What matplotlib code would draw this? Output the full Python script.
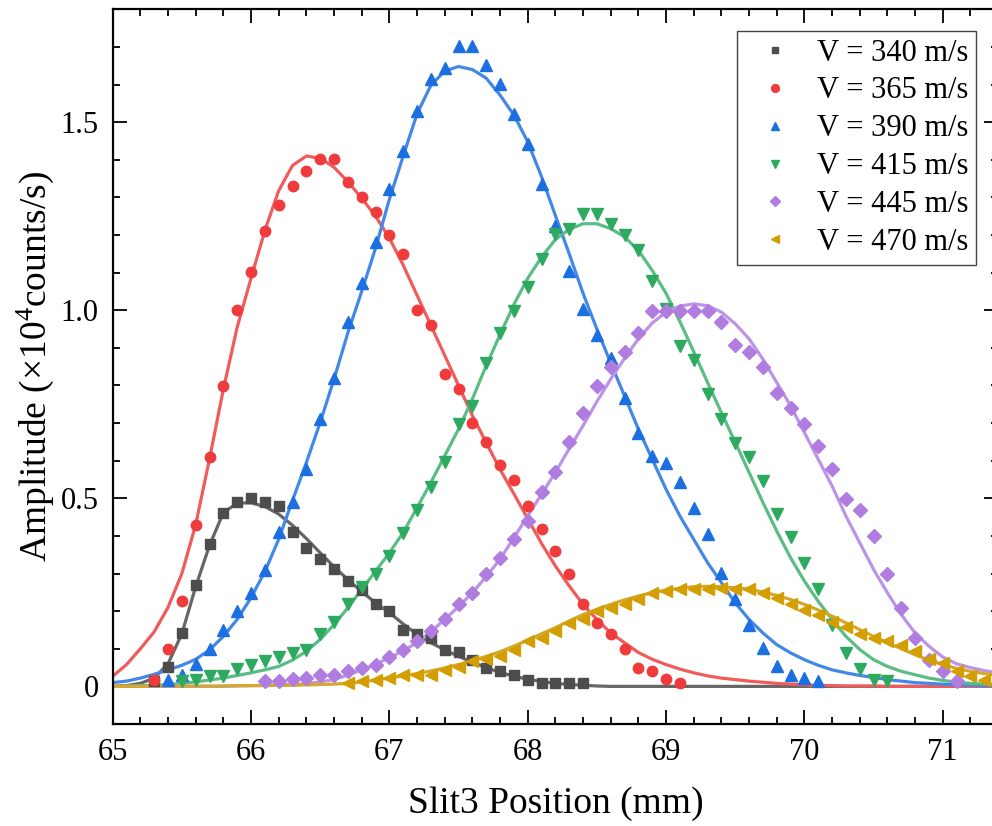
import numpy as np
import matplotlib
matplotlib.use("Agg")
import matplotlib.pyplot as plt
from matplotlib.ticker import MultipleLocator, FuncFormatter

plt.rcParams['font.family'] = ['Liberation Serif', 'DejaVu Serif']
plt.rcParams['mathtext.fontset'] = 'custom'
plt.rcParams['mathtext.rm'] = 'Liberation Serif'
plt.rcParams['mathtext.it'] = 'Liberation Serif:italic'

step = 0.1  # slit scan step (mm)

# measured amplitudes (x1e4 counts/s), first position of each scan
labels = ["V = 340 m/s", "V = 365 m/s", "V = 390 m/s",
          "V = 415 m/s", "V = 445 m/s", "V = 470 m/s"]
starts = [65.3, 65.3, 65.4, 65.5, 66.1, 66.7]

v340 = [0.015, 0.051, 0.142, 0.269, 0.379, 0.461, 0.490, 0.500, 0.490, 0.480,
        0.411, 0.369, 0.339, 0.311, 0.280, 0.255, 0.220, 0.200, 0.151, 0.140,
        0.129, 0.098, 0.091, 0.069, 0.049, 0.040, 0.029, 0.018, 0.009, 0.009,
        0.009, 0.009]
v365 = [0.018, 0.100, 0.228, 0.429, 0.609, 0.799, 1.001, 1.101, 1.211, 1.281,
        1.331, 1.371, 1.401, 1.401, 1.341, 1.300, 1.261, 1.201, 1.150, 1.001,
        0.961, 0.831, 0.791, 0.700, 0.649, 0.589, 0.550, 0.480, 0.419, 0.360,
        0.300, 0.220, 0.169, 0.140, 0.100, 0.049, 0.040, 0.020, 0.009]
v390 = [0.018, 0.029, 0.060, 0.100, 0.151, 0.200, 0.249, 0.309, 0.411, 0.490,
        0.579, 0.711, 0.820, 0.970, 1.072, 1.181, 1.322, 1.423, 1.530, 1.614,
        1.643, 1.703, 1.703, 1.652, 1.601, 1.523, 1.443, 1.335, 1.223, 1.103,
        1.004, 0.934, 0.872, 0.766, 0.673, 0.613, 0.593, 0.544, 0.473, 0.404,
        0.302, 0.231, 0.162, 0.102, 0.053, 0.031, 0.022, 0.013]
v415 = [0.013, 0.018, 0.027, 0.027, 0.046, 0.056, 0.068, 0.077, 0.089, 0.098,
        0.140, 0.171, 0.220, 0.265, 0.300, 0.346, 0.409, 0.468, 0.529, 0.597,
        0.697, 0.746, 0.860, 0.940, 0.999, 1.061, 1.137, 1.204, 1.217, 1.257,
        1.257, 1.228, 1.199, 1.159, 1.079, 1.004, 0.906, 0.868, 0.777, 0.711,
        0.647, 0.609, 0.546, 0.459, 0.397, 0.329, 0.258, 0.164, 0.089, 0.046,
        0.018, 0.013]
v445 = [0.013, 0.013, 0.020, 0.022, 0.029, 0.029, 0.040, 0.049, 0.058, 0.078,
        0.098, 0.120, 0.147, 0.180, 0.220, 0.247, 0.298, 0.340, 0.391, 0.440,
        0.518, 0.569, 0.649, 0.728, 0.798, 0.848, 0.890, 0.939, 0.998, 0.998,
        0.998, 0.998, 0.998, 0.968, 0.908, 0.890, 0.848, 0.779, 0.740, 0.697,
        0.639, 0.579, 0.499, 0.469, 0.400, 0.300, 0.209, 0.129, 0.071, 0.040,
        0.013]
v470 = [0.009, 0.013, 0.018, 0.022, 0.029, 0.031, 0.031, 0.044, 0.052, 0.067,
        0.073, 0.082, 0.098, 0.120, 0.129, 0.147, 0.169, 0.180, 0.200, 0.209,
        0.220, 0.231, 0.249, 0.253, 0.260, 0.260, 0.260, 0.262, 0.260, 0.258,
        0.249, 0.236, 0.220, 0.204, 0.191, 0.171, 0.158, 0.140, 0.129, 0.120,
        0.111, 0.093, 0.073, 0.062, 0.040, 0.027, 0.018]

fit_start = 65.0
fit340 = [0.000, 0.002, 0.008, 0.022, 0.060, 0.140, 0.265, 0.375, 0.462, 0.487,
          0.488, 0.478, 0.458, 0.428, 0.393, 0.355, 0.318, 0.284, 0.252, 0.222,
          0.196, 0.166, 0.138, 0.116, 0.097, 0.080, 0.064, 0.050, 0.037, 0.027,
          0.019, 0.013, 0.008, 0.005, 0.003, 0.001, 0.000, 0.000, 0.000, 0.000,
          0.000, 0.000, 0.000, 0.000, 0.000, 0.000, 0.000, 0.000, 0.000, 0.000,
          0.000, 0.000, 0.000, 0.000, 0.000, 0.000, 0.000, 0.000, 0.000, 0.000,
          0.000, 0.000, 0.000, 0.000, 0.000]
fit365 = [0.027, 0.058, 0.100, 0.145, 0.210, 0.300, 0.430, 0.605, 0.790, 0.955,
          1.085, 1.212, 1.318, 1.385, 1.410, 1.404, 1.380, 1.342, 1.298, 1.250,
          1.192, 1.120, 1.040, 0.960, 0.880, 0.800, 0.720, 0.648, 0.577, 0.512,
          0.446, 0.380, 0.320, 0.267, 0.218, 0.178, 0.142, 0.116, 0.090, 0.072,
          0.058, 0.046, 0.036, 0.028, 0.022, 0.018, 0.014, 0.011, 0.008, 0.006,
          0.004, 0.003, 0.002, 0.001, 0.001, 0.001, 0.000, 0.000, 0.000, 0.000,
          0.000, 0.000, 0.000, 0.000, 0.000]
fit390 = [0.010, 0.014, 0.022, 0.032, 0.044, 0.056, 0.072, 0.097, 0.133, 0.178,
          0.236, 0.305, 0.391, 0.495, 0.595, 0.702, 0.817, 0.940, 1.050, 1.165,
          1.295, 1.410, 1.522, 1.598, 1.636, 1.648, 1.640, 1.617, 1.572, 1.519,
          1.448, 1.355, 1.252, 1.150, 1.045, 0.950, 0.860, 0.772, 0.684, 0.604,
          0.524, 0.453, 0.391, 0.329, 0.276, 0.222, 0.178, 0.142, 0.111, 0.089,
          0.071, 0.056, 0.044, 0.036, 0.029, 0.024, 0.018, 0.014, 0.010, 0.008,
          0.006, 0.004, 0.003, 0.002, 0.002]
fit415 = [0.000, 0.001, 0.002, 0.003, 0.005, 0.008, 0.012, 0.017, 0.022, 0.029,
          0.036, 0.044, 0.053, 0.070, 0.093, 0.125, 0.164, 0.209, 0.258, 0.306,
          0.355, 0.409, 0.475, 0.542, 0.613, 0.684, 0.764, 0.853, 0.935, 1.015,
          1.085, 1.141, 1.188, 1.215, 1.230, 1.230, 1.217, 1.195, 1.159, 1.106,
          1.045, 0.970, 0.890, 0.808, 0.728, 0.649, 0.569, 0.489, 0.413, 0.342,
          0.280, 0.226, 0.178, 0.133, 0.098, 0.071, 0.053, 0.040, 0.031, 0.022,
          0.016, 0.011, 0.008, 0.006, 0.005]
fit445 = [0.000, 0.000, 0.000, 0.000, 0.000, 0.000, 0.000, 0.000, 0.000, 0.001,
          0.002, 0.003, 0.004, 0.005, 0.007, 0.012, 0.018, 0.030, 0.044, 0.059,
          0.076, 0.095, 0.116, 0.145, 0.178, 0.212, 0.249, 0.292, 0.338, 0.395,
          0.453, 0.511, 0.569, 0.632, 0.693, 0.757, 0.817, 0.872, 0.924, 0.966,
          0.995, 1.011, 1.017, 1.012, 0.995, 0.964, 0.924, 0.870, 0.808, 0.746,
          0.675, 0.604, 0.533, 0.453, 0.382, 0.311, 0.249, 0.191, 0.142, 0.107,
          0.078, 0.060, 0.050, 0.042, 0.036]
fit470 = [0.000, 0.000, 0.000, 0.001, 0.001, 0.001, 0.001, 0.001, 0.001, 0.002,
          0.002, 0.002, 0.003, 0.003, 0.004, 0.005, 0.006, 0.008, 0.012, 0.017,
          0.022, 0.028, 0.034, 0.041, 0.049, 0.058, 0.068, 0.080, 0.092, 0.107,
          0.123, 0.140, 0.156, 0.174, 0.191, 0.205, 0.218, 0.230, 0.240, 0.249,
          0.256, 0.261, 0.265, 0.266, 0.265, 0.262, 0.258, 0.251, 0.242, 0.231,
          0.218, 0.203, 0.187, 0.169, 0.151, 0.133, 0.116, 0.100, 0.084, 0.070,
          0.058, 0.048, 0.040, 0.034, 0.030]

data = [v340, v365, v390, v415, v445, v470]
fits = [fit340, fit365, fit390, fit415, fit445, fit470]

markers = ['s', 'o', '^', 'v', 'D', '<']
msizes = [6.5, 7.5, 8.5, 8.5, 7, 8.5]
mcolors = ['#4d4d4d', '#ef3b3b', '#1c6fe0', '#2eaa60', '#b07ce0', '#d29e00']
lcolors = ['#666666', '#f05c5c', '#4388e6', '#5abd85', '#bc93e8', '#d6a82a']

fig = plt.figure(figsize=(9.92, 8.26), dpi=100)
ax = fig.add_axes([0.1136, 0.1235, 0.8925, 0.8652])

# fitted curves underneath
for i in range(len(fits)):
    fx = fit_start + step * np.arange(len(fits[i]))
    ax.plot(fx, fits[i], color=lcolors[i], lw=2.3, zorder=2)

# measured points
for i in range(len(data)):
    x = starts[i] + step * np.arange(len(data[i]))
    ax.plot(x, data[i], linestyle='none', marker=markers[i], ms=msizes[i],
            color=mcolors[i], mec=mcolors[i], label=labels[i], zorder=3)

ax.set_xlim(65, 71.4)
ax.set_ylim(-0.1, 1.8)
ax.xaxis.set_major_locator(MultipleLocator(1))
ax.xaxis.set_minor_locator(MultipleLocator(0.2))
ax.yaxis.set_major_locator(MultipleLocator(0.5))
ax.yaxis.set_minor_locator(MultipleLocator(0.1))
ax.yaxis.set_major_formatter(FuncFormatter(lambda v, p: '0' if abs(v) < 1e-9 else f'{v:.1f}'))

ax.tick_params(which='both', direction='in', top=True, right=True, width=1.3, labelsize=22)
ax.tick_params(which='major', length=10)
ax.tick_params(which='minor', length=5)
ax.tick_params(axis='x', pad=10)
ax.tick_params(axis='y', pad=10)
for s in ax.spines.values():
    s.set_linewidth(1.6)

ax.set_xlabel('Slit3 Position (mm)', fontsize=27, labelpad=14)
ax.set_ylabel(r'Amplitude (×10$^4$counts/s)', fontsize=27)
ax.yaxis.set_label_coords(-0.064, 0.5)

leg = ax.legend(loc='upper right', bbox_to_anchor=(976 / 992, 1 - 31 / 826),
                bbox_transform=fig.transFigure, borderaxespad=0, fontsize=22,
                markerscale=0.75, handlelength=2.0, handletextpad=0.38,
                labelspacing=0.29, borderpad=0.25, fancybox=False, framealpha=1)
leg.get_frame().set_edgecolor('#444444')
leg.get_frame().set_linewidth(1.0)

fig.savefig('out.png', dpi=100)
